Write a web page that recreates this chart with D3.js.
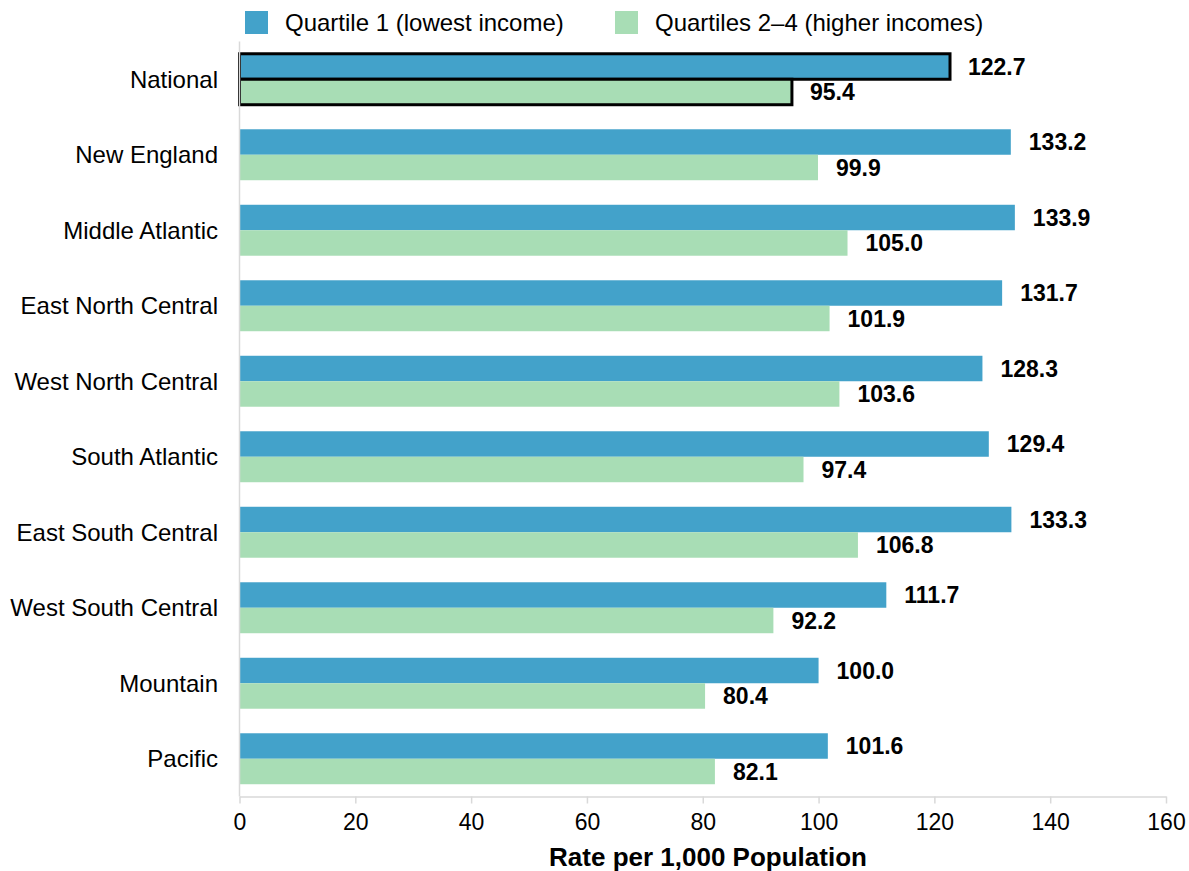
<!DOCTYPE html>
<html>
<head>
<meta charset="utf-8">
<script src="https://cdn.jsdelivr.net/npm/d3@7"></script>
<style>
  html, body { margin: 0; padding: 0; background: #fff; }
  svg { display: block; font-family: "Liberation Sans", Arial, sans-serif; }
</style>
</head>
<body>
<svg id="chart" width="1189" height="871"></svg>
<script>
// Regions (top to bottom)
const regions = [
  "National", "New England", "Middle Atlantic", "East North Central",
  "West North Central", "South Atlantic", "East South Central",
  "West South Central", "Mountain", "Pacific"
];
// Rate per 1,000 population, lowest-income quartile
const quartile1 = [122.7, 133.2, 133.9, 131.7, 128.3, 129.4, 133.3, 111.7, 100.0, 101.6];
// Rate per 1,000 population, quartiles 2–4
const quartiles2to4 = [95.4, 99.9, 105.0, 101.9, 103.6, 97.4, 106.8, 92.2, 80.4, 82.1];
const seriesNames = ["Quartile 1 (lowest income)", "Quartiles 2–4 (higher incomes)"];
const xTicks = [0, 20, 40, 60, 80, 100, 120, 140, 160];
const axisTitle = "Rate per 1,000 Population";

const colors = ["#43a2ca", "#a8ddb5"];
const gridGray = "#d9d9d9";

const svg = d3.select("#chart");
const margin = { left: 239.5, right: 23, top: 41.5, bottom: 74.5 };
const W = 1189, H = 871;

const x = d3.scaleLinear().domain([0, 160]).range([margin.left, W - margin.right]);
const y = d3.scaleBand().domain(regions)
  .range([margin.top, H - margin.bottom])
  .paddingInner(0.325).paddingOuter(0.1625);
const sub = d3.scaleBand().domain([0, 1]).range([0, y.bandwidth()]);

const rows = regions.map((r, i) => ({ region: r, values: [quartile1[i], quartiles2to4[i]] }));

// Bars
const g = svg.append("g");
const groups = g.selectAll("g.row").data(rows).join("g")
  .attr("class", "row")
  .attr("transform", d => `translate(0,${y(d.region)})`);

groups.selectAll("rect").data((d, ri) => d.values.map((v, k) => ({ v, k, ri }))).join("rect")
  .attr("x", x(0))
  .attr("y", d => sub(d.k))
  .attr("width", d => x(d.v) - x(0))
  .attr("height", sub.bandwidth())
  .attr("fill", d => colors[d.k])
  .attr("stroke", d => d.ri === 0 ? "#000" : "none")
  .attr("stroke-width", 3);

// Value labels
groups.selectAll("text.val").data(d => d.values.map((v, k) => ({ v, k }))).join("text")
  .attr("class", "val")
  .attr("x", d => x(d.v) + 18)
  .attr("y", d => sub(d.k) + sub.bandwidth() / 2)
  .attr("dy", "0.35em")
  .attr("font-size", 23)
  .attr("font-weight", "bold")
  .attr("fill", "#000")
  .text(d => d.v.toFixed(1));

// Category labels
svg.append("g").selectAll("text").data(regions).join("text")
  .attr("x", 218)
  .attr("y", d => y(d) + y.bandwidth() / 2)
  .attr("dy", "0.35em")
  .attr("text-anchor", "end")
  .attr("font-size", 24)
  .attr("fill", "#000")
  .text(d => d);

// Vertical axis line
svg.append("line")
  .attr("x1", x(0)).attr("x2", x(0))
  .attr("y1", margin.top).attr("y2", H - margin.bottom)
  .attr("stroke", gridGray).attr("stroke-width", 1.5);

// Bottom axis
const xAxis = d3.axisBottom(x).tickValues(xTicks).tickSize(7).tickSizeOuter(0).tickPadding(10);
const ax = svg.append("g")
  .attr("transform", `translate(0,${H - margin.bottom})`)
  .call(xAxis);
ax.select(".domain").attr("stroke", gridGray).attr("stroke-width", 1.5);
ax.selectAll(".tick line").attr("stroke", gridGray).attr("stroke-width", 1.5);
ax.selectAll(".tick text")
  .attr("font-size", 23)
  .attr("font-family", "\"Liberation Sans\", Arial, sans-serif")
  .attr("fill", "#000");

// Axis title
svg.append("text")
  .attr("x", 708)
  .attr("y", 866)
  .attr("text-anchor", "middle")
  .attr("font-size", 26)
  .attr("font-weight", "bold")
  .attr("fill", "#000")
  .text(axisTitle);

// Legend
const legendX = [245, 615];
const legend = svg.append("g").selectAll("g").data(seriesNames).join("g")
  .attr("transform", (d, i) => `translate(${legendX[i]},11)`);
legend.append("rect")
  .attr("width", 23).attr("height", 23)
  .attr("fill", (d, i) => colors[i]);
legend.append("text")
  .attr("x", 40)
  .attr("y", 12)
  .attr("dy", "0.35em")
  .attr("font-size", 24)
  .attr("fill", "#000")
  .text(d => d);
</script>
</body>
</html>
